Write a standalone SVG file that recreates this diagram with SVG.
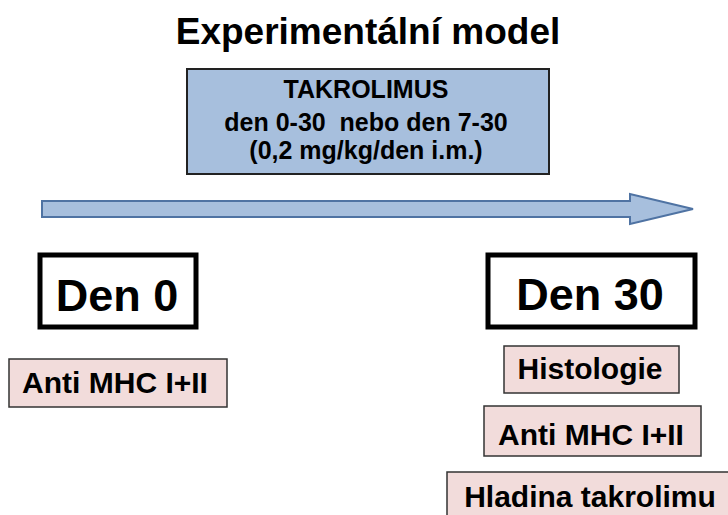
<svg xmlns="http://www.w3.org/2000/svg" width="728" height="515" viewBox="0 0 728 515">
<style>
text{font-family:"Liberation Sans",Arial,sans-serif;font-weight:bold;fill:#000;text-anchor:middle}
.title{font-size:37px}
.tak{font-size:25px}
.den{font-size:45px}
.lab{font-size:30px}
.blue{fill:#a7bfdd;stroke:#222;stroke-width:2}
.dbox{fill:#fff;stroke:#000;stroke-width:5}
.pink{fill:#f2dcdb;stroke:#333;stroke-width:1.5}
.arrow{fill:#a7bfdd;stroke:#4f73a3;stroke-width:2}
</style>
<rect width="728" height="515" fill="#fff"/>
<text class="title" x="368" y="44">Experimentální model</text>
<g id="takrolimus">
<rect class="blue" x="187" y="69" width="362" height="105"/>
<text class="tak" x="366" y="98">TAKROLIMUS</text>
<text class="tak" x="366" y="131" xml:space="preserve">den 0-30  nebo den 7-30</text>
<text class="tak" x="366" y="159">(0,2 mg/kg/den i.m.)</text>
</g>
<g id="connectors">
<path class="arrow" d="M42 201 H630 V194 L693 209 L630 224 V217 H42 Z"/>
</g>
<g id="den0">
<rect class="dbox" x="40" y="255" width="156" height="72"/>
<text class="den" x="117" y="311">Den 0</text>
</g>
<g id="den30">
<rect class="dbox" x="488" y="255" width="207" height="72"/>
<text class="den" x="590" y="310">Den 30</text>
</g>
<g id="anti0">
<rect class="pink" x="9" y="359" width="218" height="48"/>
<text class="lab" x="115" y="393">Anti MHC I+II</text>
</g>
<g id="histologie">
<rect class="pink" x="504" y="346" width="175" height="47"/>
<text class="lab" x="590" y="379">Histologie</text>
</g>
<g id="anti30">
<rect class="pink" x="484" y="406" width="217" height="50"/>
<text class="lab" x="591" y="445">Anti MHC I+II</text>
</g>
<g id="hladina">
<rect class="pink" x="447" y="472" width="290" height="50"/>
<text class="lab" x="590" y="507">Hladina takrolimu</text>
</g>
</svg>
